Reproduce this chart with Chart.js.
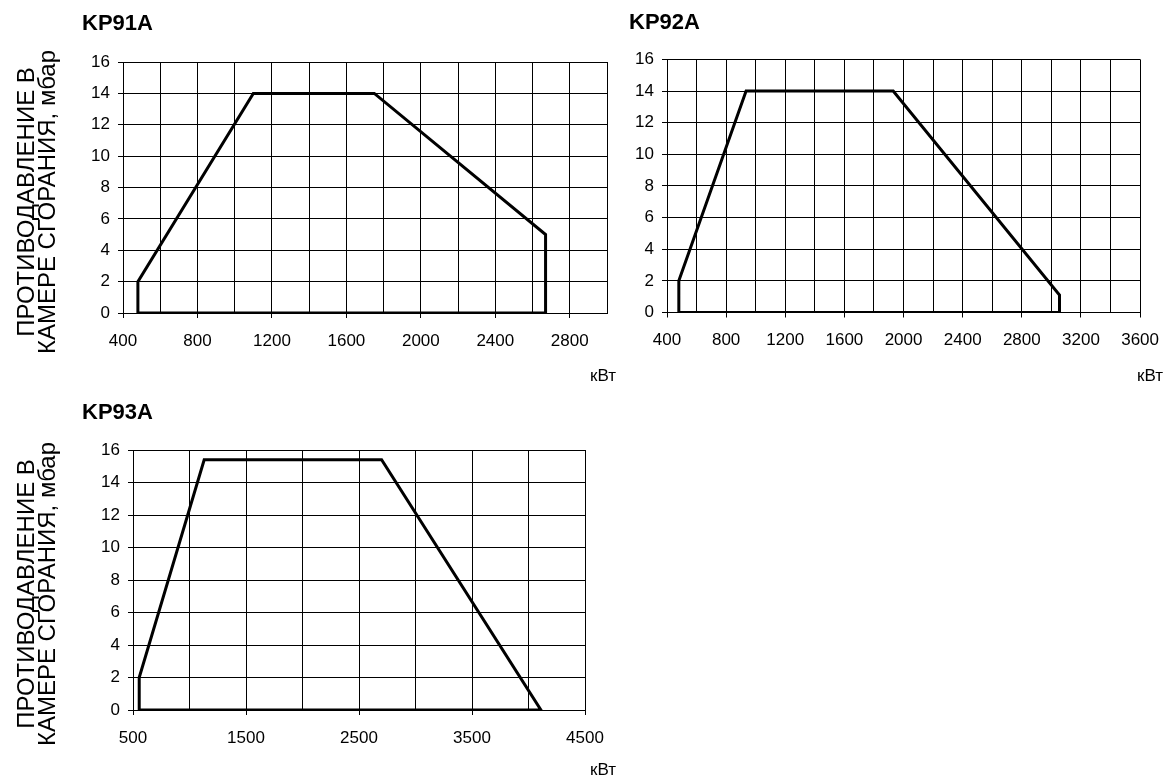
<!DOCTYPE html>
<html>
<head>
<meta charset="utf-8">
<script src="https://cdn.jsdelivr.net/npm/chart.js@4.4.1/dist/chart.umd.min.js"></script>
<style>
  body { margin: 0; background: #fff; width: 1172px; height: 778px; position: relative; overflow: hidden; }
  .box { position: absolute; }
</style>
</head>
<body>
<div class="box" style="left:0;top:0;width:640px;height:400px"><canvas id="kp91"></canvas></div>
<div class="box" style="left:600px;top:0;width:572px;height:400px"><canvas id="kp92"></canvas></div>
<div class="box" style="left:0;top:380px;width:640px;height:398px"><canvas id="kp93"></canvas></div>
<script>
// рабочие поля горелок, кВт / мбар
var kp91Power = [480, 480, 1100, 1750, 2670, 2670, 480];
var kp91Pressure = [0, 2, 14, 14, 5, 0, 0];
var kp92Power = [480, 480, 935, 1930, 3055, 3055, 480];
var kp92Pressure = [0, 2, 14, 14, 1.1, 0, 0];
var kp93Power = [555, 555, 1130, 2700, 4110, 555];
var kp93Pressure = [0, 2, 15.4, 15.4, 0, 0];

var pressureTicks = [0, 2, 4, 6, 8, 10, 12, 14, 16];
var yTitle = ['ПРОТИВОДАВЛЕНИЕ В', 'КАМЕРЕ СГОРАНИЯ, мбар'];
var xUnit = 'кВт';

var FONT = "'Liberation Sans', Arial, Helvetica, sans-serif";

// подписи сбоку: повернутый заголовок оси Y и единицы по X
var sideText = {
    id: 'sideText',
    afterDraw: function (chart, args, opts) {
        var ctx = chart.ctx;
        ctx.save();
        ctx.fillStyle = '#000';
        if (opts.lines) {
            ctx.font = '24px ' + FONT;
            ctx.translate(0, opts.cy);
            ctx.rotate(-Math.PI / 2);
            ctx.textAlign = 'center';
            ctx.textBaseline = 'alphabetic';
            ctx.fillText(opts.lines[0], 0, 34);
            ctx.fillText(opts.lines[1], 0, 55);
            ctx.setTransform(1, 0, 0, 1, 0, 0);
        }
        ctx.font = '17px ' + FONT;
        ctx.textAlign = 'left';
        ctx.textBaseline = 'middle';
        ctx.fillText(xUnit, opts.ux, opts.uy);
        ctx.restore();
    }
};

function makePoints(xs, ys) {
    return xs.map(function (x, i) { return { x: x, y: ys[i] }; });
}

function buildChart(id, s) {
    var ctx = document.getElementById(id).getContext('2d');
    return new Chart(ctx, {
        type: 'scatter',
        data: {
            datasets: [{
                data: makePoints(s.power, s.pressure),
                showLine: true,
                borderColor: '#000',
                borderWidth: 3,
                borderJoinStyle: 'miter',
                pointRadius: 0,
                fill: false
            }]
        },
        plugins: [sideText],
        options: {
            responsive: true,
            maintainAspectRatio: false,
            animation: false,
            layout: { padding: s.padding },
            plugins: {
                legend: { display: false },
                tooltip: { enabled: false },
                title: {
                    display: true,
                    text: s.title,
                    align: 'start',
                    color: '#000',
                    font: { family: FONT, size: 22, weight: 'bold', lineHeight: 1.2 },
                    padding: s.titlePad
                },
                sideText: s.side
            },
            scales: {
                x: {
                    type: 'linear',
                    min: s.xMin,
                    max: s.xMax,
                    afterFit: function (sc) { sc.height = s.xHeight; },
                    ticks: {
                        stepSize: s.xStep,
                        autoSkip: false,
                        maxRotation: 0,
                        padding: 13,
                        color: '#000',
                        font: { family: FONT, size: 17 },
                        callback: function (v) {
                            return (v - s.xMin) % s.labelStep === 0 ? v : '';
                        }
                    },
                    grid: {
                        color: '#000',
                        lineWidth: 1,
                        tickLength: 5,
                        tickColor: function (c) {
                            return c.tick && (c.tick.value - s.xMin) % s.labelStep === 0 ? '#000' : 'rgba(0,0,0,0)';
                        }
                    },
                    border: { color: '#000', width: 1 }
                },
                y: {
                    min: 0,
                    max: 16,
                    afterFit: function (sc) { sc.width = s.yWidth; },
                    afterBuildTicks: function (sc) {
                        sc.ticks = pressureTicks.map(function (v) { return { value: v }; });
                    },
                    ticks: {
                        padding: 8,
                        color: '#000',
                        font: { family: FONT, size: 17 }
                    },
                    grid: { color: '#000', lineWidth: 1, tickLength: 5, tickColor: '#000' },
                    border: { color: '#000', width: 1 }
                }
            }
        }
    });
}

document.addEventListener('DOMContentLoaded', function () {
    buildChart('kp91', {
        title: 'KP91A', power: kp91Power, pressure: kp91Pressure,
        xMin: 400, xMax: 3000, xStep: 200, labelStep: 400,
        padding: { left: 82, right: 33, top: 0, bottom: 0 },
        titlePad: { top: 11, bottom: 24.6 },
        yWidth: 41, xHeight: 87,
        side: { lines: yTitle, cy: 202, ux: 590, uy: 376 }
    });
    buildChart('kp92', {
        title: 'KP92A', power: kp92Power, pressure: kp92Pressure,
        xMin: 400, xMax: 3600, xStep: 200, labelStep: 400,
        padding: { left: 29, right: 29, top: 0, bottom: 0 },
        titlePad: { top: 10, bottom: 23 },
        yWidth: 38, xHeight: 87.5,
        side: { lines: null, cy: 0, ux: 537, uy: 376 }
    });
    buildChart('kp93', {
        title: 'KP93A', power: kp93Power, pressure: kp93Pressure,
        xMin: 500, xMax: 4500, xStep: 500, labelStep: 1000,
        padding: { left: 82, right: 55, top: 0, bottom: 0 },
        titlePad: { top: 19.3, bottom: 24.3 },
        yWidth: 51, xHeight: 68,
        side: { lines: yTitle, cy: 214, ux: 590, uy: 390 }
    });
});
</script>
</body>
</html>
